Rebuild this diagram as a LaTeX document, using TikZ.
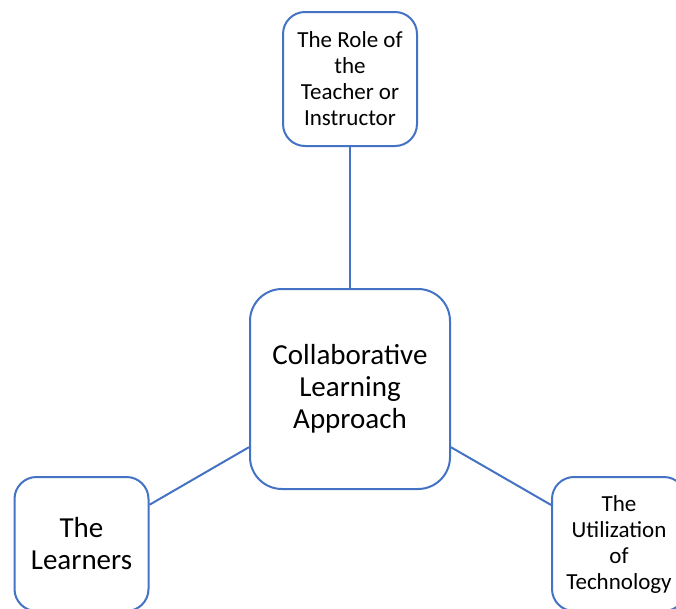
\documentclass[tikz,border=0pt]{standalone}
\usepackage{fontspec}
\setmainfont{Carlito}
\definecolor{boxblue}{RGB}{68,114,196}
\begin{document}
\begin{tikzpicture}[x=1pt,y=-1pt,
  every node/.style = {shape=rectangle, draw=boxblue, line width=2pt,
    fill=white, align=center, inner sep=0pt},
  bigbox/.style = {minimum size=200pt, rounded corners=32pt},
  smallbox/.style = {minimum size=134pt, rounded corners=22pt},
  bigtext/.style = {font=\fontsize{29}{32}\selectfont},
  smalltext/.style = {font=\fontsize{23}{26}\selectfont},
  link/.style = {draw=boxblue, line width=2pt}]
  \useasboundingbox (0,0) rectangle (676,608);
  \node[bigbox, bigtext] (approach) at (350,389) {Collaborative\\Learning\\Approach};
  \node[smallbox, smalltext] (teacher) at (350,79) {The Role of\\the\\Teacher or\\Instructor};
  \node[smallbox, bigtext] (learners) at (81.5,544) {The\\Learners};
  \node[smallbox, smalltext] (technology) at (619,544) {The\\Utilization\\of\\Technology};
  \draw[link] (approach) -- (teacher);
  \draw[link] (approach) -- (learners);
  \draw[link] (approach) -- (technology);
\end{tikzpicture}
\end{document}
